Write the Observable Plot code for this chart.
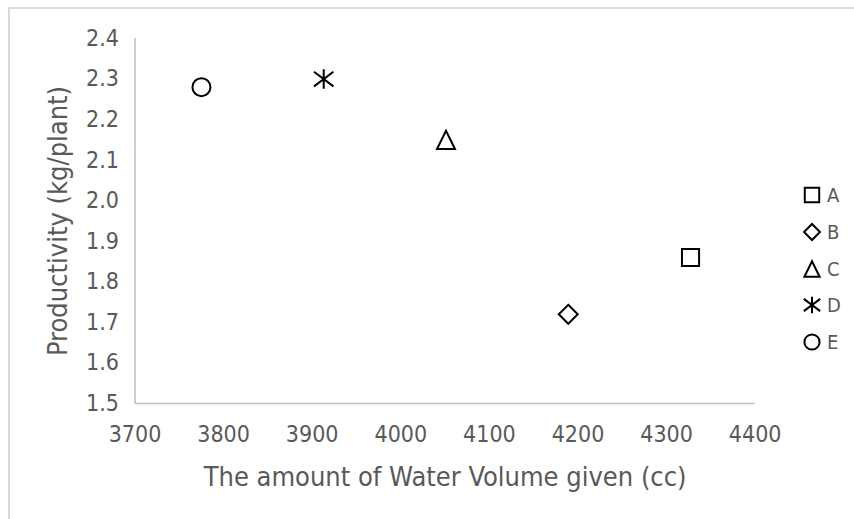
<!DOCTYPE html>
<html>
<head>
<meta charset="utf-8">
<script src="https://cdn.jsdelivr.net/npm/d3@7"></script>
<script src="https://cdn.jsdelivr.net/npm/@observablehq/plot@0.6"></script>
<style>
  html, body { margin: 0; padding: 0; background: #fff; overflow: hidden; }
  #wrap { position: relative; width: 854px; height: 519px; }
  #border { position: absolute; left: 8px; top: 7px; width: 900px; height: 600px;
            border-top: 2px solid #d9d9d9; border-left: 2px solid #d9d9d9; box-sizing: border-box; }
  #chart { position: absolute; left: 0; top: 0; }
  #legend { position: absolute; left: 800px; top: 177px; font-family: "DejaVu Sans Condensed", sans-serif;
            font-size: 20px; color: #595959; }
  .row { display: flex; align-items: center; height: 36.7px; }
  .row svg { width: 24px; height: 24px; margin-right: 3px; overflow: visible; }
</style>
</head>
<body>
<div id="wrap">
  <div id="border"></div>
  <div id="chart"></div>
  <div id="legend"></div>
</div>
<script>
// Data
const categories = ["A", "B", "C", "D", "E"];
const waterVolume = [4327, 4189, 4051, 3913, 3775];
const productivity = [1.86, 1.72, 2.15, 2.30, 2.28];
const xTicks = [3700, 3800, 3900, 4000, 4100, 4200, 4300, 4400];
const yTicks = [1.5, 1.6, 1.7, 1.8, 1.9, 2.0, 2.1, 2.2, 2.3, 2.4];

const data = categories.map((c, i) => ({name: c, water: waterVolume[i], prod: productivity[i]}));

// custom marker shapes (Excel style)
const rOf = size => Math.sqrt(size / Math.PI);
const symSquare = {draw(ctx, size) { const r = rOf(size) * 0.95; ctx.moveTo(-r, -r); ctx.lineTo(r, -r); ctx.lineTo(r, r); ctx.lineTo(-r, r); ctx.closePath(); }};
const symDiamond = {draw(ctx, size) { const r = rOf(size) * 1.05; ctx.moveTo(0, -r); ctx.lineTo(r, 0); ctx.lineTo(0, r); ctx.lineTo(-r, 0); ctx.closePath(); }};
const symTriangle = {draw(ctx, size) { const r = rOf(size); ctx.moveTo(0, -r * 1.02); ctx.lineTo(r, r * 1.02); ctx.lineTo(-r, r * 1.02); ctx.closePath(); }};
const symStar = {draw(ctx, size) { const r = rOf(size) * 1.08; ctx.moveTo(0, -r); ctx.lineTo(0, r); ctx.moveTo(-r, -r * 0.75); ctx.lineTo(r, r * 0.75); ctx.moveTo(-r, r * 0.75); ctx.lineTo(r, -r * 0.75); }};
const symCircle = {draw(ctx, size) { const r = rOf(size); ctx.moveTo(r, 0); ctx.arc(0, 0, r, 0, 2 * Math.PI); }};
const symbolRange = [symSquare, symDiamond, symTriangle, symStar, symCircle];

const textColor = "#595959";
const fontFamily = "DejaVu Sans Condensed, sans-serif";

const plot = Plot.plot({
  width: 854,
  height: 519,
  marginLeft: 134.5,
  marginRight: 99.3,
  marginTop: 38,
  marginBottom: 116,
  style: {fontFamily, fontSize: "23px", color: textColor, background: "transparent", overflow: "visible"},
  x: {domain: [3700, 4400], ticks: xTicks, label: null},
  y: {domain: [1.5, 2.4], ticks: yTicks, label: null},
  symbol: {domain: categories, range: symbolRange},
  marks: [
    Plot.ruleX([3700], {stroke: "#bfbfbf", strokeWidth: 1.5}),
    Plot.ruleY([1.5], {stroke: "#bfbfbf", strokeWidth: 1.5}),
    Plot.axisX({ticks: xTicks, tickSize: 0, tickPadding: 22, tickFormat: d3.format("d"), fill: textColor,
      fontSize: 23, label: null}),
    Plot.axisX({ticks: [], tickSize: 0, fill: textColor, fontSize: 27,
      label: "The amount of Water Volume given (cc)", labelAnchor: "center", labelArrow: "none", labelOffset: 82}),
    Plot.axisY({ticks: yTicks, tickSize: 0, tickPadding: 16, tickFormat: d3.format(".1f"), fill: textColor,
      fontSize: 23, label: null}),
    Plot.axisY({ticks: [], tickSize: 0, fill: textColor, fontSize: 27,
      label: "Productivity (kg/plant)", labelAnchor: "center", labelArrow: "none", labelOffset: 87}),
    Plot.dot(data, {x: "water", y: "prod", symbol: "name", r: 9, fill: "none", stroke: "black", strokeWidth: 2})
  ]
});
document.getElementById("chart").appendChild(plot);

// Legend
const legend = d3.select("#legend");
categories.forEach((c, i) => {
  const row = legend.append("div").attr("class", "row");
  const svg = row.append("svg").attr("viewBox", "-12 -12 24 24");
  svg.append("path")
    .attr("d", d3.symbol(symbolRange[i], Math.PI * 7.6 * 7.6)())
    .attr("fill", "none").attr("stroke", "black").attr("stroke-width", 2);
  row.append("span").text(c);
});
</script>
</body>
</html>
